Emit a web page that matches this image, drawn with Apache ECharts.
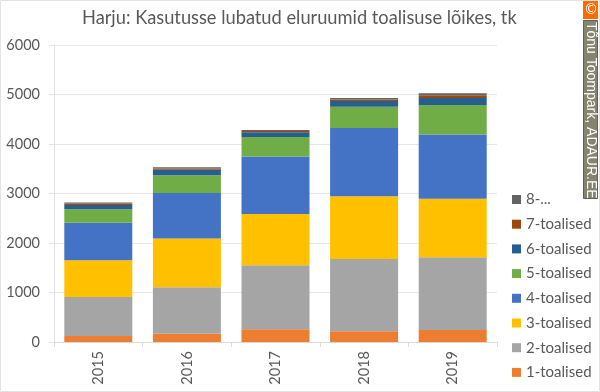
<!DOCTYPE html>
<html><head><meta charset="utf-8">
<script src="https://cdn.jsdelivr.net/npm/echarts@6/dist/echarts.min.js"></script>
<style>html,body{margin:0;padding:0;background:#fff}#c{width:600px;height:392px}</style>
</head><body><div id="c"></div>
<script>
const years = ['2015','2016','2017','2018','2019'];
const names = ['1-toalised','2-toalised','3-toalised','4-toalised','5-toalised','6-toalised','7-toalised','8-...'];
const colors = ['#ed7d31','#a5a5a5','#ffc000','#4472c4','#70ad47','#255e91','#9e480e','#636363'];
const room1 = [120,165,260,215,240];
const room2 = [790,940,1290,1460,1470];
const room3 = [740,985,1035,1270,1185];
const room4 = [760,920,1160,1380,1295];
const room5 = [270,360,395,430,600];
const room6 = [90,110,95,115,140];
const room7 = [30,25,30,30,55];
const room8 = [20,25,20,30,40];
const allRooms = [room1,room2,room3,room4,room5,room6,room7,room8];
const FONT = 'Lato';
const chart = echarts.init(document.getElementById('c'), null, {renderer:'canvas'});
chart.setOption({
  animation:false,
  backgroundColor:'#fff',
  title:{text:'Harju: Kasutusse lubatud eluruumid toalisuse lõikes, tk',left:77,top:4,
    textStyle:{fontFamily:FONT,fontSize:18.25,fontWeight:'normal',color:'#595959'}},
  grid:{left:54,right:103,top:45,bottom:50},
  legend:{orient:'vertical',left:512,top:192,padding:0,itemWidth:9,itemHeight:9,itemGap:9.7,
    data:names.slice().reverse(),icon:'rect',itemStyle:{borderWidth:0},
    textStyle:{fontFamily:FONT,fontSize:15,color:'#595959'}},
  xAxis:{type:'category',data:years,
    axisLine:{lineStyle:{color:'#d9d9d9'}},
    axisTick:{show:true,alignWithLabel:false,length:5,lineStyle:{color:'#d9d9d9'}},
    axisLabel:{rotate:90,fontFamily:FONT,fontSize:14.5,color:'#595959',margin:9}},
  yAxis:{type:'value',min:0,max:6000,interval:1000,
    axisLine:{show:true,lineStyle:{color:'#e4e4e4'}},
    axisTick:{show:true,length:5,lineStyle:{color:'#e4e4e4'}},
    splitLine:{lineStyle:{color:'#e7e7e7'}},
    axisLabel:{fontFamily:FONT,fontSize:14.5,color:'#595959',margin:14,formatter:v=>String(v)}},
  series:allRooms.map((d,i)=>({name:names[i],type:'bar',stack:'t',data:d,barWidth:68,
    itemStyle:{color:colors[i]}})),
  graphic:[
    {type:'rect',x:0.5,y:0.5,shape:{width:599,height:391},style:{fill:'none',stroke:'#e3e3e3',lineWidth:1},silent:true},
    {type:'rect',x:583,y:1,shape:{width:15,height:18},style:{fill:'#ff6a00'},silent:true},
    {type:'text',x:584,y:3,style:{text:'©',fill:'#fff',fontSize:14,fontFamily:'DejaVu Sans'},silent:true},
    {type:'rect',x:583.5,y:20.5,shape:{width:14,height:178},style:{fill:'#85856f',stroke:'#5f5f5f',lineWidth:1},silent:true},
    {type:'text',x:584,y:22,rotation:-Math.PI/2,
      style:{text:'Tõnu Toompark, ADAUR.EE',fill:'#fff',fontSize:14,fontFamily:'Liberation Sans',textAlign:'left',textVerticalAlign:'bottom'},silent:true}
  ]
});
</script></body></html>
